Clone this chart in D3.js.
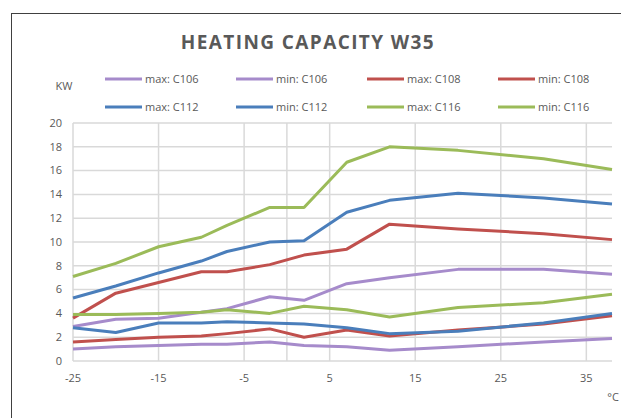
<!DOCTYPE html>
<html>
<head>
<meta charset="utf-8">
<script src="https://cdn.jsdelivr.net/npm/d3@7"></script>
<style>
  body { margin: 0; background: #fff; }
  text { font-family: "Open Sans", sans-serif; fill: #595959; }
</style>
</head>
<body>
<script>
var width = 621;
var height = 418;

// outdoor temperature (°C)
var temps = [-25, -20, -15, -10, -7, -2, 2, 7, 12, 20, 30, 38];

// heating capacity (kW)
var maxC106 = [2.9, 3.5, 3.6, 4.1, 4.4, 5.4, 5.1, 6.5, 7.0, 7.7, 7.7, 7.3];
var minC106 = [1.0, 1.2, 1.3, 1.4, 1.4, 1.6, 1.3, 1.2, 0.9, 1.2, 1.6, 1.9];
var maxC108 = [3.6, 5.7, 6.6, 7.5, 7.5, 8.1, 8.9, 9.4, 11.5, 11.1, 10.7, 10.2];
var minC108 = [1.6, 1.8, 2.0, 2.1, 2.3, 2.7, 2.0, 2.6, 2.1, 2.6, 3.1, 3.8];
var maxC112 = [5.3, 6.3, 7.4, 8.4, 9.2, 10.0, 10.1, 12.5, 13.5, 14.1, 13.7, 13.2];
var minC112 = [2.8, 2.4, 3.2, 3.2, 3.3, 3.2, 3.1, 2.8, 2.3, 2.5, 3.2, 4.0];
var maxC116 = [7.1, 8.2, 9.6, 10.4, 11.4, 12.9, 12.9, 16.7, 18.0, 17.7, 17.0, 16.1];
var minC116 = [3.9, 3.9, 4.0, 4.1, 4.3, 4.0, 4.6, 4.3, 3.7, 4.5, 4.9, 5.6];

var seriesNames = ["max: C106", "min: C106", "max: C108", "min: C108",
                   "max: C112", "min: C112", "max: C116", "min: C116"];
var seriesValues = [maxC106, minC106, maxC108, minC108, maxC112, minC112, maxC116, minC116];
var seriesColors = ["#a68bcb", "#a68bcb", "#c0504d", "#c0504d",
                    "#4a7ebb", "#4a7ebb", "#9bbb59", "#9bbb59"];

var xTicks = [-25, -15, -5, 5, 15, 25, 35];
var yTicks = [0, 2, 4, 6, 8, 10, 12, 14, 16, 18, 20];

var svg = d3.select("body").append("svg").attr("width", width).attr("height", height);

// chart frame
svg.append("rect")
  .attr("x", 11.5).attr("y", 13.5)
  .attr("width", 640).attr("height", 440)
  .attr("fill", "none").attr("stroke", "#404040").attr("stroke-width", 1);

var x = d3.scaleLinear().domain([-25, 38]).range([73, 612]);
var y = d3.scaleLinear().domain([0, 20]).range([361, 123]);

// horizontal gridlines
svg.append("g").selectAll("line").data(yTicks).enter().append("line")
  .attr("x1", x(-25)).attr("x2", x(38))
  .attr("y1", function(d) { return y(d); })
  .attr("y2", function(d) { return y(d); })
  .attr("stroke", "#d9d9d9").attr("stroke-width", 1.5);

// vertical gridlines + axis at 0
svg.append("g").selectAll("line").data(xTicks.concat([0])).enter().append("line")
  .attr("x1", function(d) { return x(d); })
  .attr("x2", function(d) { return x(d); })
  .attr("y1", y(20)).attr("y2", y(0))
  .attr("stroke", "#d9d9d9").attr("stroke-width", 1.5);

// y tick labels
svg.append("g").selectAll("text").data(yTicks).enter().append("text")
  .attr("x", 62).attr("y", function(d) { return y(d); })
  .attr("dy", "0.35em").attr("text-anchor", "end")
  .style("font-size", "11px")
  .text(function(d) { return d; });

// x tick labels
svg.append("g").selectAll("text").data(xTicks).enter().append("text")
  .attr("x", function(d) { return x(d); }).attr("y", 378)
  .attr("dy", "0.35em").attr("text-anchor", "middle")
  .style("font-size", "11px")
  .text(function(d) { return d; });

svg.append("text").attr("x", 619).attr("y", 397).attr("dy", "0.35em")
  .attr("text-anchor", "end").style("font-size", "11px").text("°C");

svg.append("text").attr("x", 64).attr("y", 86).attr("dy", "0.35em")
  .attr("text-anchor", "middle").style("font-size", "11px").text("KW");

// title
svg.append("text").attr("x", 308).attr("y", 49)
  .attr("text-anchor", "middle")
  .style("font-size", "19px").style("font-weight", "bold")
  .style("letter-spacing", "1.4px")
  .text("HEATING CAPACITY W35");

// series lines
var line = d3.line()
  .x(function(d, i) { return x(temps[i]); })
  .y(function(d) { return y(d); });

svg.append("g").selectAll("path").data(seriesValues).enter().append("path")
  .attr("d", function(d) { return line(d); })
  .attr("fill", "none")
  .attr("stroke", function(d, i) { return seriesColors[i]; })
  .attr("stroke-width", 3)
  .attr("stroke-linejoin", "round");

// legend
var legend = svg.append("g").selectAll("g").data(seriesNames).enter().append("g")
  .attr("transform", function(d, i) {
    return "translate(" + (105 + (i % 4) * 131) + "," + (i < 4 ? 79 : 107) + ")";
  });

legend.append("line")
  .attr("x1", 0).attr("x2", 37).attr("y1", 0).attr("y2", 0)
  .attr("stroke", function(d, i) { return seriesColors[i]; })
  .attr("stroke-width", 3);

legend.append("text")
  .attr("x", 40).attr("y", 0).attr("dy", "0.35em")
  .style("font-size", "11px")
  .text(function(d) { return d; });
</script>
</body>
</html>
